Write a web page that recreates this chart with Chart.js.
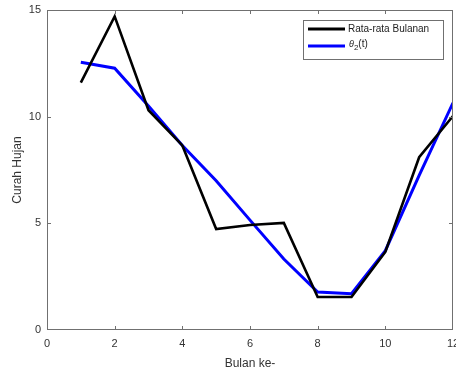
<!DOCTYPE html>
<html>
<head>
<meta charset="utf-8">
<script src="https://cdn.jsdelivr.net/npm/chart.js@4.4.1/dist/chart.umd.min.js"></script>
<style>
  html, body { margin: 0; padding: 0; background: #fff; }
  #wrap { width: 456px; height: 374px; }
</style>
</head>
<body>
<div id="wrap"><canvas id="grafik" width="456" height="374"></canvas></div>
<script>
const bulan = [1, 2, 3, 4, 5, 6, 7, 8, 9, 10, 11, 12];
const rataRata = [11.6, 14.7, 10.3, 8.65, 4.73, 4.92, 5.02, 1.55, 1.55, 3.66, 8.1, 10.03];
const theta2 = [12.55, 12.27, 10.5, 8.65, 7.0, 5.15, 3.33, 1.78, 1.7, 3.72, 7.25, 10.65];
const xTicks = [0, 2, 4, 6, 8, 10, 12];
const yTicks = [0, 5, 10, 15];

const warnaSumbu = "#707070";
const warnaTeks = "#333333";

// kotak sumbu + tick ke dalam (gaya MATLAB)
const kotakSumbu = {
    id: "kotakSumbu",
    afterDatasetsDraw(chart) {
        const { ctx, chartArea: a, scales } = chart;
        ctx.save();
        ctx.strokeStyle = warnaSumbu;
        ctx.lineWidth = 1;
        ctx.strokeRect(a.left + 0.5, a.top + 0.5, a.right - a.left - 1, a.bottom - a.top - 1);
        const p = 4;
        ctx.beginPath();
        xTicks.slice(1, -1).forEach(v => {
            const x = Math.round(scales.x.getPixelForValue(v)) + 0.5;
            ctx.moveTo(x, a.bottom); ctx.lineTo(x, a.bottom - p);
            ctx.moveTo(x, a.top); ctx.lineTo(x, a.top + p);
        });
        yTicks.slice(1, -1).forEach(v => {
            const y = Math.round(scales.y.getPixelForValue(v)) + 0.5;
            ctx.moveTo(a.left, y); ctx.lineTo(a.left + p, y);
            ctx.moveTo(a.right, y); ctx.lineTo(a.right - p, y);
        });
        ctx.stroke();
        ctx.restore();
    }
};

// legenda di pojok kanan atas
const legendaKotak = {
    id: "legendaKotak",
    afterDraw(chart) {
        const { ctx } = chart;
        const x0 = 303, y0 = 20, w = 140, h = 39;
        ctx.save();
        ctx.fillStyle = "#fff";
        ctx.fillRect(x0, y0, w, h);
        ctx.strokeStyle = warnaSumbu;
        ctx.lineWidth = 1;
        ctx.strokeRect(x0 + 0.5, y0 + 0.5, w, h);
        const ds = chart.data.datasets;
        const baris = [y0 + 9, y0 + 26];
        ds.forEach((d, i) => {
            ctx.strokeStyle = d.borderColor;
            ctx.lineWidth = 3;
            ctx.beginPath();
            ctx.moveTo(x0 + 5, baris[i]);
            ctx.lineTo(x0 + 42, baris[i]);
            ctx.stroke();
        });
        ctx.fillStyle = "#222";
        ctx.textBaseline = "middle";
        ctx.font = "10px 'Liberation Sans', Arial, sans-serif";
        ctx.fillText(ds[0].label, x0 + 45, baris[0]);
        // θ2(t) dengan subskrip
        let tx = x0 + 46;
        ctx.font = "italic 9px 'Liberation Sans', Arial, sans-serif";
        ctx.fillText("\u03B8", tx, baris[1] - 2);
        tx += ctx.measureText("\u03B8").width;
        ctx.font = "8px 'Liberation Sans', Arial, sans-serif";
        ctx.fillText("2", tx, baris[1] + 2);
        tx += ctx.measureText("2").width;
        ctx.font = "10px 'Liberation Sans', Arial, sans-serif";
        ctx.fillText("(t)", tx, baris[1] - 2);
        ctx.restore();
    }
};

const ctx = document.getElementById("grafik").getContext("2d");
new Chart(ctx, {
    type: "line",
    data: {
        datasets: [
            {
                label: "Rata-rata Bulanan",
                data: bulan.map((b, i) => ({ x: b, y: rataRata[i] })),
                borderColor: "#000000",
                borderWidth: 2.6,
                pointRadius: 0,
                tension: 0
            },
            {
                label: "\u03B82(t)",
                data: bulan.map((b, i) => ({ x: b, y: theta2[i] })),
                borderColor: "#0000ff",
                borderWidth: 3,
                pointRadius: 0,
                tension: 0
            }
        ]
    },
    options: {
        responsive: false,
        animation: false,
        layout: { padding: { top: 10, right: 3, left: 0, bottom: 0 } },
        plugins: {
            legend: { display: false },
            tooltip: { enabled: false }
        },
        scales: {
            x: {
                type: "linear",
                min: 0, max: 12,
                afterBuildTicks: s => { s.ticks = xTicks.map(v => ({ value: v })); },
                grid: { display: false, drawTicks: false },
                border: { display: false },
                ticks: {
                    color: warnaTeks, padding: 7, maxRotation: 0,
                    font: { family: "'Liberation Sans', Arial, sans-serif", size: 11 }
                },
                title: {
                    display: true, text: "Bulan ke-", color: warnaTeks,
                    font: { family: "'Liberation Sans', Arial, sans-serif", size: 12 },
                    padding: { top: 0, bottom: 3 }
                },
                afterFit: s => { s.height = 44; s.paddingLeft = 0; s.paddingRight = 0; }
            },
            y: {
                min: 0, max: 15,
                afterBuildTicks: s => { s.ticks = yTicks.map(v => ({ value: v })); },
                grid: { display: false, drawTicks: false },
                border: { display: false },
                ticks: {
                    color: warnaTeks, padding: 6,
                    font: { family: "'Liberation Sans', Arial, sans-serif", size: 11 }
                },
                title: {
                    display: true, text: "Curah Hujan", color: warnaTeks,
                    font: { family: "'Liberation Sans', Arial, sans-serif", size: 12 },
                    padding: { top: 10, bottom: 0 }
                },
                afterFit: s => { s.width = 47; s.paddingTop = 0; s.paddingBottom = 0; }
            }
        }
    },
    plugins: [kotakSumbu, legendaKotak]
});
</script>
</body>
</html>
